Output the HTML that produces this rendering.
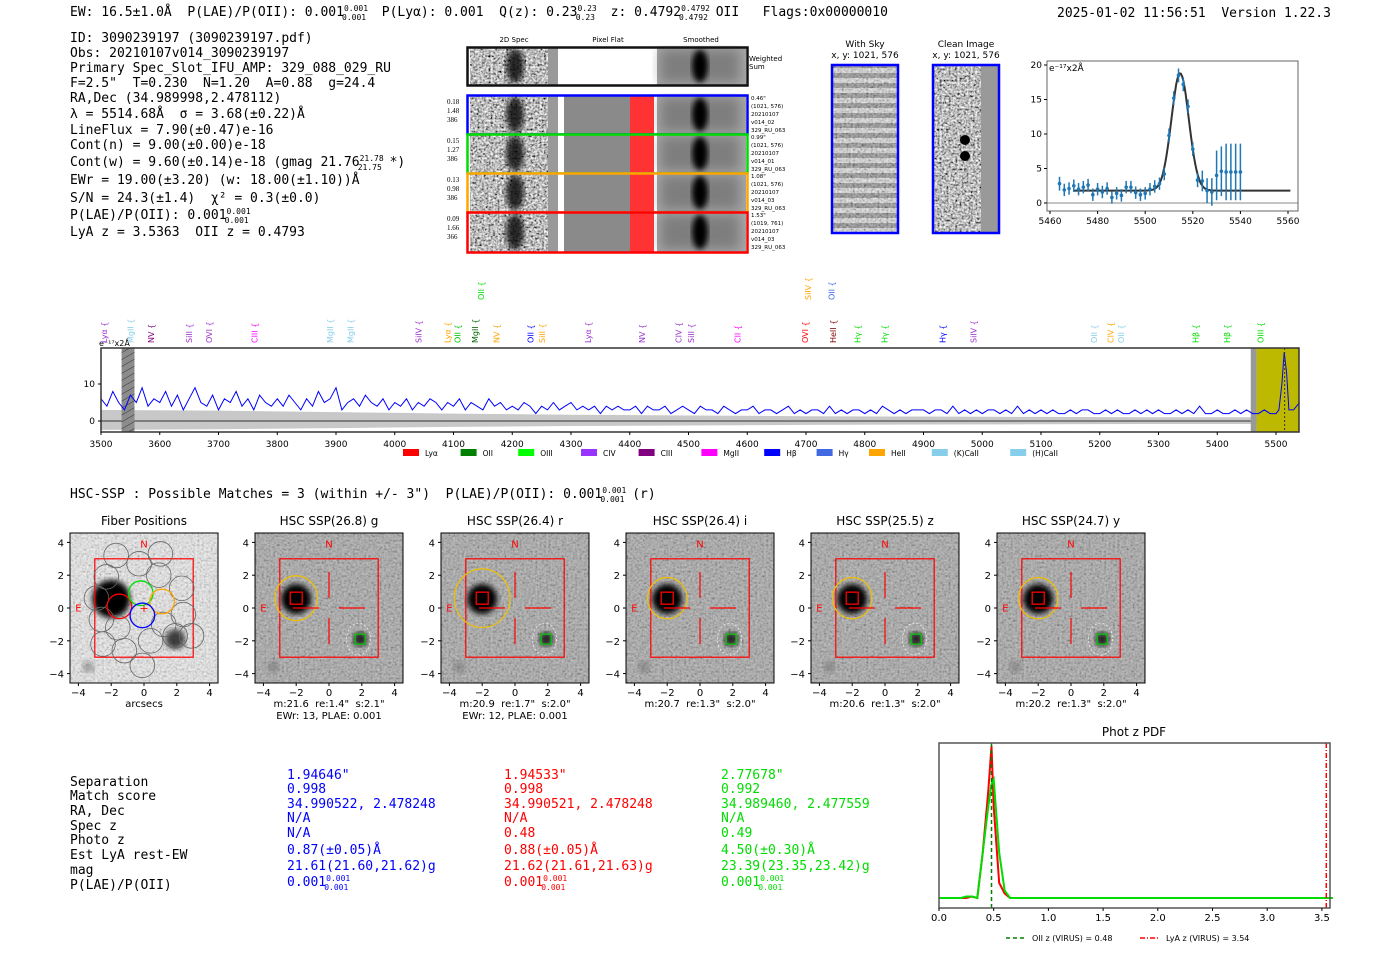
<!DOCTYPE html>
<html><head><meta charset="utf-8"><style>
html,body{margin:0;padding:0;background:#fff;}
svg{display:block;font-family:"DejaVu Sans","Liberation Sans",sans-serif;}
svg text{white-space:pre;}
.mono{font-family:"DejaVu Sans Mono","Liberation Mono",monospace;}
</style></head><body>
<svg id="root" width="1400" height="953" viewBox="0 0 1400 953" xmlns="http://www.w3.org/2000/svg" xml:space="preserve">
<defs>
<filter id="noise" x="0" y="0" width="100%" height="100%"><feTurbulence type="fractalNoise" baseFrequency="0.45" numOctaves="2" seed="3"/><feColorMatrix type="saturate" values="0"/><feComponentTransfer><feFuncR type="linear" slope="2.2" intercept="-0.6"/><feFuncG type="linear" slope="2.2" intercept="-0.6"/><feFuncB type="linear" slope="2.2" intercept="-0.6"/><feFuncA type="linear" slope="0" intercept="1"/></feComponentTransfer></filter>
<filter id="blur3"><feGaussianBlur stdDeviation="3"/></filter>
<filter id="blur6"><feGaussianBlur stdDeviation="6"/></filter>
<pattern id="skyband" width="10" height="10" patternUnits="userSpaceOnUse"><rect width="10" height="10" fill="#d8d8d8"/><rect y="3" width="10" height="5" fill="#8a8a8a"/></pattern>
<pattern id="hatch" width="6" height="6" patternUnits="userSpaceOnUse" patternTransform="rotate(60)"><rect width="6" height="6" fill="#8c8c8c"/><line x1="0" y1="0" x2="0" y2="6" stroke="#333" stroke-width="1"/></pattern>
</defs>

<g class="mono" font-size="13" fill="#000">
<text x="70" y="16">EW: 16.5±1.0Å  P(LAE)/P(OII): 0.001<tspan font-size="8" dy="-5">0.001</tspan><tspan font-size="8" dx="-26" dy="9">0.001</tspan><tspan dy="-4">  P(Lyα): 0.001  Q(z): 0.23</tspan><tspan font-size="8" dy="-5">0.23</tspan><tspan font-size="8" dx="-21" dy="9">0.23</tspan><tspan dy="-4">  z: 0.4792</tspan><tspan font-size="8" dy="-5">0.4792</tspan><tspan font-size="8" dx="-31" dy="9">0.4792</tspan><tspan dy="-4"> OII   Flags:0x00000010</tspan></text>
<text x="1057" y="17">2025-01-02 11:56:51  Version 1.22.3</text>
</g>

<g class="mono" font-size="13" fill="#000">
<text x="70" y="42">ID: 3090239197 (3090239197.pdf)</text>
<text x="70" y="57">Obs: 20210107v014_3090239197</text>
<text x="70" y="72">Primary Spec_Slot_IFU_AMP: 329_088_029_RU</text>
<text x="70" y="87">F=2.5"  T=0.230  N=1.20  A=0.88  g=24.4</text>
<text x="70" y="102">RA,Dec (34.989998,2.478112)</text>
<text x="70" y="118">λ = 5514.68Å  σ = 3.68(±0.22)Å</text>
<text x="70" y="134">LineFlux = 7.90(±0.47)e-16</text>
<text x="70" y="149">Cont(n) = 9.00(±0.00)e-18</text>
<text x="70" y="166">Cont(w) = 9.60(±0.14)e-18 (gmag 21.76<tspan font-size="8" dy="-5">21.78</tspan><tspan font-size="8" dx="-26" dy="9">21.75</tspan><tspan dy="-4"> *)</tspan></text>
<text x="70" y="184">EWr = 19.00(±3.20) (w: 18.00(±1.10))Å</text>
<text x="70" y="202">S/N = 24.3(±1.4)  χ² = 0.3(±0.0)</text>
<text x="70" y="219">P(LAE)/P(OII): 0.001<tspan font-size="8" dy="-5">0.001</tspan><tspan font-size="8" dx="-26" dy="9">0.001</tspan></text>
<text x="70" y="236">LyA z = 3.5363  OII z = 0.4793</text>
</g>

<g id="spec2d"></g>
<g id="skyimgs"></g>
<g id="fitplot"></g>
<g id="specplot"></g>

<text class="mono" x="70" y="498" font-size="13">HSC-SSP : Possible Matches = 3 (within +/- 3")  P(LAE)/P(OII): 0.001<tspan font-size="8" dy="-5">0.001</tspan><tspan font-size="8" dx="-26" dy="9">0.001</tspan><tspan dy="-4"> (r)</tspan></text>

<g id="cutouts"></g>

<g class="mono" font-size="13">
<g fill="#000">
<text x="70" y="786">Separation</text><text x="70" y="800">Match score</text><text x="70" y="815">RA, Dec</text><text x="70" y="830">Spec z</text><text x="70" y="844">Photo z</text><text x="70" y="859">Est LyA rest-EW</text><text x="70" y="874">mag</text><text x="70" y="889">P(LAE)/P(OII)</text>
</g>
<g fill="#0000ff">
<text x="287" y="779">1.94646"</text><text x="287" y="793">0.998</text><text x="287" y="808">34.990522, 2.478248</text><text x="287" y="822">N/A</text><text x="287" y="837">N/A</text><text x="287" y="854">0.87(±0.05)Å</text><text x="287" y="870">21.61(21.60,21.62)g</text><text x="287" y="886">0.001<tspan font-size="8" dy="-5">0.001</tspan><tspan font-size="8" dx="-26" dy="9">0.001</tspan></text>
</g>
<g fill="#ff0000">
<text x="504" y="779">1.94533"</text><text x="504" y="793">0.998</text><text x="504" y="808">34.990521, 2.478248</text><text x="504" y="822">N/A</text><text x="504" y="837">0.48</text><text x="504" y="854">0.88(±0.05)Å</text><text x="504" y="870">21.62(21.61,21.63)g</text><text x="504" y="886">0.001<tspan font-size="8" dy="-5">0.001</tspan><tspan font-size="8" dx="-26" dy="9">0.001</tspan></text>
</g>
<g fill="#00dd00">
<text x="721" y="779">2.77678"</text><text x="721" y="793">0.992</text><text x="721" y="808">34.989460, 2.477559</text><text x="721" y="822">N/A</text><text x="721" y="837">0.49</text><text x="721" y="854">4.50(±0.30)Å</text><text x="721" y="870">23.39(23.35,23.42)g</text><text x="721" y="886">0.001<tspan font-size="8" dy="-5">0.001</tspan><tspan font-size="8" dx="-26" dy="9">0.001</tspan></text>
</g>
</g>

<g id="pdfplot"></g>
</svg>

<script>
const specStart = 3500;
const specStep = 10;
const specFlux = [6,4,8,5,3,7,5,9,4,6, 5,8,4,7,3,6,9,5,4,7, 3,6,5,8,4,6,3,7,5,4, 6,4,7,5,3,6,4,8,5,6, 9,3,5,6,4,7,5,4,6,3, 5,4,6,3,5,4,6,5,3,5, 4,6,3,5,4,3,6,4,5,3, 4,3,5,4,2,4,3,5,3,4, 5,3,4,3,4,2,4,3,4,3, 3,4,2,4,3,3,4,2,3,4, 3,2,4,3,3,2,4,3,2,3, 3,4,2,3,3,2,3,4,2,3, 2,3,3,2,4,2,3,2,3,3, 2,3,2,4,3,2,3,2,3,3, 3,2,3,3,2,4,2,3,2,3, 2,3,3,2,3,2,4,2,3,2, 3,2,3,2,2,3,2,3,3,2, 2,3,2,3,2,2,3,2,3,2, 3,2,2,3,2,3,2,4,2,2, 3,2,2,3,2,3,2];
const peakWave = [5470,5480,5490,5500,5505,5510,5514,5518,5522,5530,5540];
const peakFlux = [2,3,2,2,3,10,18.6,13,3,3,5];
const errWave = [3500,3700,3900,4100,4300,4500,4700,4900,5100,5300,5540];
const errVal = [3,2.8,2.4,2,1.7,1.5,1.3,1.2,1.1,1,1];
const specTicks = [3500,3600,3700,3800,3900,4000,4100,4200,4300,4400,4500,4600,4700,4800,4900,5000,5100,5200,5300,5400,5500];
const lineWave = [3505,3550,3585,3650,3684,3761,3890,3925,4040,4090,4107,4137,4173,4231,4251,4329,4421,4483,4504,4583,4698,4746,4788,4834,4932,4985,5190,5218,5236,5363,5417,5474,4147,4703,4743];
const lineName = ["Lyα","MgII","NV","SiII","OVI","CIII","MgII","MgII","SiIV","Lyα","OII","MgII","NV","OII","SiII","Lyα","NV","CIV","SiII","CII","OVI","HeII","Hγ","Hγ","Hγ","SiIV","OII","CIV","OII","Hβ","Hβ","OIII","OII","SiIV","OII"];
const lineColor = ["#9933cc","#87ceeb","#800080","#9933cc","#9933cc","#ff00ff","#87ceeb","#87ceeb","#9933cc","#ffa500","#00c000","#006400","#ffa500","#0000ff","#ffa500","#9933cc","#9933cc","#9933cc","#9933cc","#ff00ff","#ff0000","#800000","#00dd00","#00dd00","#0000ff","#9933cc","#87ceeb","#ffa500","#87ceeb","#00dd00","#00dd00","#00dd00","#00dd00","#ffa500","#4169e1"];
const lineRow = [0,0,0,0,0,0,0,0,0,0,0,0,0,0,0,0,0,0,0,0,0,0,0,0,0,0,0,0,0,0,0,0,1,1,1];
const legendNames = ["Lyα","OII","OIII","CIV","CIII","MgII","Hβ","Hγ","HeII","(K)CaII","(H)CaII"];
const legendColors = ["#ff0000","#008000","#00ff00","#9933ff","#800080","#ff00ff","#0000ff","#4169e1","#ffa500","#87ceeb","#87ceeb"];

const fitWave = [5464,5466,5468,5470,5472,5474,5476,5478,5480,5482,5484,5486,5488,5490,5492,5494,5496,5498,5500,5502,5504,5506,5508,5510,5512,5514,5516,5518,5520,5522,5524,5526,5528,5530,5532,5534,5536,5538,5540];
const fitFlux = [2.8,1.9,2.1,2.5,2.0,2.3,2.6,1.2,2.0,1.6,2.1,0.8,1.4,1.1,2.3,2.3,1.5,1.2,1.4,2.0,2.4,2.8,4.2,9.8,15.2,18.5,17.2,14.0,7.8,3.3,3.2,1.8,1.6,4.0,4.6,4.5,4.5,4.5,4.5];
const fitErr = [1,0.9,0.9,0.9,0.9,0.9,0.9,0.9,0.9,0.9,0.9,0.9,0.9,0.9,0.9,0.9,0.9,0.9,0.9,0.9,0.9,0.9,0.9,1,1,1,1,1,1,1,1.5,1.8,2,3.6,3.6,4.1,4.1,4.1,4.1];
const fitMu = 5514.68;
const fitSigma = 3.68;
const fitAmp = 17.0;
const fitCont = 1.8;
const fitXTicks = [5460,5480,5500,5520,5540,5560];
const fitYTicks = [0,5,10,15,20];

const pdfZ = [0,0.2,0.25,0.3,0.35,0.4,0.45,0.48,0.5,0.55,0.6,0.65,0.7,3.6];
const pdfGreen = [0,0,0.01,0.01,0,0.3,0.6,0.75,0.78,0.3,0.05,0,0,0];
const pdfRed = [0,0,0,0.01,0,0.3,0.7,1.0,0.6,0.1,0.03,0,0,0];
const pdfTicks = [0.0,0.5,1.0,1.5,2.0,2.5,3.0,3.5];
const oiiZ = 0.48;
const lyaZ = 3.54;

const cutTitles = ["Fiber Positions","HSC SSP(26.8) g","HSC SSP(26.4) r","HSC SSP(26.4) i","HSC SSP(25.5) z","HSC SSP(24.7) y"];
const cutNotes1 = ["arcsecs","m:21.6  re:1.4\"  s:2.1\"","m:20.9  re:1.7\"  s:2.0\"","m:20.7  re:1.3\"  s:2.0\"","m:20.6  re:1.3\"  s:2.0\"","m:20.2  re:1.3\"  s:2.0\""];
const cutNotes2 = ["","EWr: 13, PLAE: 0.001","EWr: 12, PLAE: 0.001","","",""];
const apertureR = [0,1.3,1.7,1.2,1.2,1.2];
const fiberX = [-1.7,-0.3,1.0,-2.3,-2.9,0.9,2.3,-2.6,-1.6,1.2,2.4,-2.5,-1.2,0.4,1.9,-0.1,2.9];
const fiberY = [3.2,2.7,3.3,1.9,0.6,2.0,1.2,-0.7,-1.2,-1.0,-0.4,-2.2,-2.6,-2.0,-1.7,-3.5,-1.7];
const colFiberX = [-1.5,-0.2,1.1,-0.1];
const colFiberY = [0.1,0.9,0.4,-0.45];
const colFiberC = ["#ff0000","#00dd00","#ffa500","#0000ff"];

const NS = "http://www.w3.org/2000/svg";
function mk(tag, attrs, parent, name, inter) {
  const e = document.createElementNS(NS, tag);
  for (const k in attrs) e.setAttribute(k, attrs[k]);
  
  
  parent.appendChild(e);
  return e;
}
function txt(s, attrs, parent, name) {
  const e = mk('text', attrs, parent, name, false);
  e.textContent = s;
  return e;
}

(function(){
  const g = document.getElementById('spec2d');
  txt('2D Spec', {x:514,y:42,'font-size':7,'text-anchor':'middle'}, g, 'col-title-2d-spec');
  txt('Pixel Flat', {x:608,y:42,'font-size':7,'text-anchor':'middle'}, g, 'col-title-pixel-flat');
  txt('Smoothed', {x:701,y:42,'font-size':7,'text-anchor':'middle'}, g, 'col-title-smoothed');
  const rows = [[47,38,'#111'],[95,39,'#0000ff'],[134,39,'#00dd00'],[173,39,'#ffa500'],[212,40,'#ff0000']];
  const lbl = [["0.18","1.48","386"],["0.15","1.27","386"],["0.13","0.98","386"],["0.09","1.66","366"]];
  const rtxt = [["0.46\"","(1021, 576)","20210107","v014_02","329_RU_063"],["0.99\"","(1021, 576)","20210107","v014_01","329_RU_063"],["1.08\"","(1021, 576)","20210107","v014_03","329_RU_063"],["1.53\"","(1019, 761)","20210107","v014_03","329_RU_063"]];
  rows.forEach((r,i)=>{
    const y=r[0], h=r[1];
    mk('rect',{x:470,y:y,width:88,height:h,filter:'url(#noise)'},g,'spec2d-image',false);
    mk('rect',{x:548,y:y,width:10,height:h,fill:'#999'},g,'spec2d-edge',false);
    mk('ellipse',{cx:515,cy:y+h/2,rx:9,ry:h/2.2,fill:'#000',opacity:0.8,filter:'url(#blur3)'},g,'spec2d-source',false);
    if(i===0){
      mk('rect',{x:558,y:y,width:98,height:h,fill:'#fff'},g,'pixel-flat-blank',false);
    } else {
      mk('rect',{x:558,y:y,width:6,height:h,fill:'#fff'},g,'pixel-flat-gap',false);
      mk('rect',{x:564,y:y,width:66,height:h,fill:'#8a8a8a'},g,'pixel-flat',false);
      mk('rect',{x:630,y:y,width:24,height:h,fill:'#ff3333'},g,'pixel-flat-bad',false);
      mk('rect',{x:654,y:y,width:3,height:h,fill:'#fff'},g,'pixel-flat-gap',false);
    }
    mk('rect',{x:657,y:y,width:89,height:h,fill:'#a8a8a8'},g,'smoothed-image',false);
    mk('rect',{x:660,y:y+2,width:80,height:h-4,fill:'#555',opacity:0.5,filter:'url(#blur6)'},g,'smoothed-texture',false);
    mk('ellipse',{cx:700,cy:y+h/2,rx:8,ry:h/2.3,fill:'#000',filter:'url(#blur3)'},g,'smoothed-source',false);
    mk('rect',{x:467.5,y:y+0.5,width:280,height:h,fill:'none',stroke:r[2],'stroke-width':2.5},g,'spec2d-row-frame',false);
    if(i===0){
      txt('Weighted',{x:749,y:y+14,'font-size':7},g,'weighted-sum-label');
      txt('Sum',{x:749,y:y+22,'font-size':7},g,'weighted-sum-label');
    } else {
      lbl[i-1].forEach((s,j)=>txt(s,{x:447,y:y+9+j*9,'font-size':7,'font-family':'Liberation Serif,serif'},g,'fiber-weight-label'));
      rtxt[i-1].forEach((s,j)=>txt(s,{x:751,y:y+5+j*8,'font-size':5.5},g,'fiber-info-label'));
    }
  });
})();

(function(){
  const g = document.getElementById('skyimgs');
  txt('With Sky',{x:865,y:47,'font-size':9,'text-anchor':'middle'},g,'with-sky-title');
  txt('x, y: 1021, 576',{x:865,y:58,'font-size':9,'text-anchor':'middle'},g,'with-sky-coords');
  txt('Clean Image',{x:966,y:47,'font-size':9,'text-anchor':'middle'},g,'clean-image-title');
  txt('x, y: 1021, 576',{x:966,y:58,'font-size':9,'text-anchor':'middle'},g,'clean-image-coords');
  mk('rect',{x:832,y:65,width:66,height:168,fill:'url(#skyband)'},g,'with-sky-image',false);
  mk('rect',{x:832,y:65,width:66,height:168,filter:'url(#noise)',opacity:0.35},g,'with-sky-noise',false);
  mk('rect',{x:832,y:65,width:66,height:168,fill:'none',stroke:'#0000ff','stroke-width':2.5},g,'with-sky-frame',false);
  mk('rect',{x:933,y:65,width:66,height:168,filter:'url(#noise)'},g,'clean-image',false);
  mk('rect',{x:981,y:65,width:18,height:168,fill:'#999'},g,'clean-image-edge',false);
  mk('ellipse',{cx:965,cy:140,rx:5,ry:5,fill:'#000'},g,'clean-image-source',false);
  mk('ellipse',{cx:965,cy:156,rx:5,ry:5,fill:'#000'},g,'clean-image-source',false);
  mk('rect',{x:933,y:65,width:66,height:168,fill:'none',stroke:'#0000ff','stroke-width':2.5},g,'clean-image-frame',false);
})();

(function(){
  const g = document.getElementById('fitplot');
  const X0=1047,X1=1298,Y0=61,Y1=211;
  const xs = w => 1050 + (w-5460)*(1288-1050)/100;
  const ys = v => 203 - v*6.9;
  mk('line',{x1:X0,x2:X1,y1:ys(0),y2:ys(0),stroke:'#888','stroke-width':1},g,'zero-line',false);
  let d='';
  for(let w=5470; w<=5561; w+=0.5){
    const v = fitCont + fitAmp*Math.exp(-0.5*Math.pow((w-fitMu)/fitSigma,2));
    d += (d?'L':'M')+xs(w).toFixed(1)+','+ys(v).toFixed(1);
  }
  mk('path',{d:d,fill:'none',stroke:'#333','stroke-width':2},g,'gaussian-fit-curve',false);
  fitWave.forEach((w,i)=>{
    mk('line',{x1:xs(w),x2:xs(w),y1:ys(fitFlux[i]-fitErr[i]),y2:ys(fitFlux[i]+fitErr[i]),stroke:'#1f77b4','stroke-width':1.5},g,'fit-errorbar',false);
    mk('circle',{cx:xs(w),cy:ys(fitFlux[i]),r:1.8,fill:'#1f77b4'},g,'fit-data-point',false);
  });
  mk('rect',{x:X0,y:Y0,width:X1-X0,height:Y1-Y0,fill:'none',stroke:'#666','stroke-width':1},g,'fit-axes-frame',false);
  fitXTicks.forEach(t=>{
    mk('line',{x1:xs(t),x2:xs(t),y1:Y1,y2:Y1+3,stroke:'#000'},g,'x-tick',false);
    txt(String(t),{x:xs(t),y:Y1+13,'font-size':9,'text-anchor':'middle'},g,'x-tick-label');
  });
  fitYTicks.forEach(t=>{
    mk('line',{x1:X0-3,x2:X0,y1:ys(t),y2:ys(t),stroke:'#000'},g,'y-tick',false);
    txt(String(t),{x:X0-5,y:ys(t)+3,'font-size':9,'text-anchor':'end'},g,'y-tick-label');
  });
  txt('e⁻¹⁷x2Å',{x:X0+2,y:Y0+10,'font-size':9},g,'fit-units-label');
})();

(function(){
  const g = document.getElementById('specplot');
  const X0=101,X1=1299,Y0=348,Y1=432;
  const xs = w => 101 + (w-3500)*0.5875;
  const ys = v => 421 - v*3.7;
  mk('rect',{x:X0,y:Y0,width:X1-X0,height:Y1-Y0,fill:'#fff'},g,'spectrum-background',false);
  let up='', dn='';
  errWave.forEach((w,i)=>{ up += (i?'L':'M')+xs(w)+','+ys(errVal[i]); });
  for(let i=errWave.length-1;i>=0;i--){ dn += 'L'+xs(errWave[i])+','+ys(-errVal[i]*0.8); }
  mk('path',{d:up+dn+'Z',fill:'#c8c8c8'},g,'error-band',false);
  mk('line',{x1:X0,x2:X1,y1:ys(0),y2:ys(0),stroke:'#666','stroke-width':1.5},g,'zero-line',false);
  mk('rect',{x:xs(3535),y:Y0,width:xs(3557)-xs(3535),height:Y1-Y0,fill:'url(#hatch)'},g,'masked-region',false);
  mk('rect',{x:xs(5457),y:Y0,width:xs(5467)-xs(5457),height:Y1-Y0,fill:'#999'},g,'masked-region',false);
  mk('rect',{x:xs(5467),y:Y0,width:X1-xs(5467),height:Y1-Y0,fill:'#bdb800'},g,'line-fit-window',false);
  let d='';
  specFlux.forEach((v,i)=>{ d += (i?'L':'M')+xs(specStart+i*specStep).toFixed(1)+','+ys(v).toFixed(1); });
  peakWave.forEach((w,i)=>{ d += 'L'+xs(w).toFixed(1)+','+ys(peakFlux[i]).toFixed(1); });
  mk('path',{d:d,fill:'none',stroke:'#0000ff','stroke-width':1},g,'spectrum-line',false);
  mk('line',{x1:xs(5514.7),x2:xs(5514.7),y1:Y0,y2:Y1,stroke:'#333','stroke-dasharray':'2,2'},g,'line-center-marker',false);
  mk('rect',{x:X0,y:Y0,width:X1-X0,height:Y1-Y0,fill:'none',stroke:'#333','stroke-width':1.5},g,'spectrum-axes-frame',false);
  specTicks.forEach(t=>{
    mk('line',{x1:xs(t),x2:xs(t),y1:Y1,y2:Y1+3,stroke:'#000'},g,'x-tick',false);
    txt(String(t),{x:xs(t),y:Y1+15,'font-size':9,'text-anchor':'middle'},g,'x-tick-label');
  });
  [0,10].forEach(t=>{
    mk('line',{x1:X0-3,x2:X0,y1:ys(t),y2:ys(t),stroke:'#000'},g,'y-tick',false);
    txt(String(t),{x:X0-6,y:ys(t)+3,'font-size':9,'text-anchor':'end'},g,'y-tick-label');
  });
  txt('e⁻¹⁷x2Å',{x:99,y:346,'font-size':8},g,'spectrum-units-label');
  lineWave.forEach((w,i)=>{
    const x = xs(w)+3, yb = lineRow[i] ? 300 : 343;
    txt(lineName[i]+' {',{x:x,y:yb,'font-size':8,fill:lineColor[i],transform:'rotate(-90 '+x+' '+yb+')'},g,'emission-line-label');
  });
  let lx = 403;
  legendNames.forEach((n,i)=>{
    mk('rect',{x:lx,y:449,width:16,height:7,fill:legendColors[i]},g,'legend-swatch',false);
    txt(n,{x:lx+22,y:456,'font-size':7.5},g,'legend-entry');
    lx += 22 + n.length*5.2 + 20;
  });
})();

(function(){
  const g = document.getElementById('cutouts');
  const px = [70,255,441,626,811,997];
  px.forEach((x0,i)=>{
    const y0=533, W=148, H=150;
    const sx = v => x0+74+v*16.4, sy = v => y0+75-v*16.4;
    const pg = mk('g',{},g,'cutout-'+i,false);
    mk('rect',{x:x0,y:y0,width:W,height:H,filter:'url(#noise)'},pg,'cutout-noise',false);
    mk('rect',{x:x0,y:y0,width:W,height:H,fill:i===0?'#e8e8e8':'#a4a4a4',opacity:0.72},pg,'cutout-background',false);
    mk('circle',{cx:sx(-2),cy:sy(0.55),r:i===0?19:15,fill:'#000',filter:'url(#blur3)'},pg,'bright-source',false);
    mk('circle',{cx:sx(1.9),cy:sy(-1.9),r:i===0?10:7,fill:i===0?'#222':'#111',filter:'url(#blur3)',opacity:0.85},pg,'faint-source',false);
    mk('circle',{cx:sx(-3.4),cy:sy(-3.6),r:6,fill:'#777',filter:'url(#blur3)',opacity:0.6},pg,'faint-source',false);
    mk('rect',{x:sx(-3),y:sy(3),width:16.4*6,height:16.4*6,fill:'none',stroke:'#ff0000','stroke-width':1.2},pg,'search-box',false);
    txt('N',{x:sx(0),y:sy(3.7),'font-size':10,fill:'#ff0000','text-anchor':'middle'},pg,'north-label');
    txt('E',{x:sx(-4),y:sy(-0.2),'font-size':10,fill:'#ff0000','text-anchor':'middle'},pg,'east-label');
    if(i===0){
      fiberX.forEach((fx,k)=>mk('circle',{cx:sx(fx),cy:sy(fiberY[k]),r:12.3,fill:'none',stroke:'#666','stroke-width':0.8},pg,'fiber-circle',false));
      colFiberX.forEach((fx,k)=>mk('circle',{cx:sx(fx),cy:sy(colFiberY[k]),r:12.3,fill:'none',stroke:colFiberC[k],'stroke-width':1.3},pg,'fiber-circle-highlight',false));
      txt('+',{x:sx(0),y:sy(0)+4,'font-size':11,fill:'#ff0000','text-anchor':'middle'},pg,'center-marker');
    } else {
      mk('ellipse',{cx:sx(-2),cy:sy(0.6),rx:apertureR[i]*16.4,ry:apertureR[i]*16.4*1.05,fill:'none',stroke:'#f0c000','stroke-width':1.2},pg,'aperture-ellipse',false);
      mk('rect',{x:sx(-2)-6,y:sy(0.6)-6,width:12,height:12,fill:'none',stroke:'#ff0000','stroke-width':1.3},pg,'match-marker',false);
      mk('ellipse',{cx:sx(1.8),cy:sy(-1.9),rx:12,ry:16,fill:'none',stroke:'#eee','stroke-dasharray':'2,2','stroke-width':0.8},pg,'aperture-faint',false);
      mk('rect',{x:sx(1.9)-5,y:sy(-1.9)-5,width:10,height:10,fill:'none',stroke:'#00cc00','stroke-width':1.2},pg,'match-marker-green',false);
      mk('line',{x1:sx(0),x2:sx(0),y1:sy(2.2),y2:sy(0.6),stroke:'#ff0000','stroke-width':1.2},pg,'crosshair',false);
      mk('line',{x1:sx(0),x2:sx(0),y1:sy(-0.6),y2:sy(-2.2),stroke:'#ff0000','stroke-width':1.2},pg,'crosshair',false);
      mk('line',{x1:sx(-2.2),x2:sx(-0.6),y1:sy(0),y2:sy(0),stroke:'#ff0000','stroke-width':1.2},pg,'crosshair',false);
      mk('line',{x1:sx(0.6),x2:sx(2.2),y1:sy(0),y2:sy(0),stroke:'#ff0000','stroke-width':1.2},pg,'crosshair',false);
    }
    mk('rect',{x:x0,y:y0,width:W,height:H,fill:'none',stroke:'#000','stroke-width':1},pg,'cutout-frame',false);
    txt(cutTitles[i],{x:x0+74,y:525,'font-size':12,'text-anchor':'middle'},pg,'cutout-title');
    [-4,-2,0,2,4].forEach(t=>{
      const lab = t<0 ? '−'+(-t) : String(t);
      mk('line',{x1:sx(t),x2:sx(t),y1:y0+H,y2:y0+H+3,stroke:'#000'},pg,'x-tick',false);
      txt(lab,{x:sx(t),y:y0+H+13,'font-size':10,'text-anchor':'middle'},pg,'x-tick-label');
      mk('line',{x1:x0-3,x2:x0,y1:sy(t),y2:sy(t),stroke:'#000'},pg,'y-tick',false);
      txt(lab,{x:x0-6,y:sy(t)+4,'font-size':10,'text-anchor':'end'},pg,'y-tick-label');
    });
    txt(cutNotes1[i],{x:x0+74,y:707,'font-size':10,'text-anchor':'middle'},pg,'cutout-note');
    if(cutNotes2[i]) txt(cutNotes2[i],{x:x0+74,y:719,'font-size':10,'text-anchor':'middle'},pg,'cutout-note');
  });
})();

(function(){
  const g = document.getElementById('pdfplot');
  const X0=939,X1=1330,Y0=743,Y1=908;
  const xs = z => 939 + z*109.4;
  const ys = p => 898 - p*152;
  txt('Phot z PDF',{x:1134,y:736,'font-size':12,'text-anchor':'middle'},g,'pdf-title');
  let dr='', dg='';
  pdfZ.forEach((z,i)=>{ dr += (i?'L':'M')+xs(z)+','+ys(pdfRed[i]); dg += (i?'L':'M')+xs(z)+','+ys(pdfGreen[i]); });
  mk('path',{d:dr,fill:'none',stroke:'#ff0000','stroke-width':2},g,'pdf-curve-red',false);
  mk('path',{d:dg,fill:'none',stroke:'#00dd00','stroke-width':2},g,'pdf-curve-green',false);
  mk('line',{x1:xs(oiiZ),x2:xs(oiiZ),y1:Y0,y2:Y1,stroke:'#008000','stroke-width':1.5,'stroke-dasharray':'4,3'},g,'oii-z-marker',false);
  mk('line',{x1:xs(lyaZ),x2:xs(lyaZ),y1:Y0,y2:Y1,stroke:'#ff0000','stroke-width':1.5,'stroke-dasharray':'5,2,1,2'},g,'lya-z-marker',false);
  mk('rect',{x:X0,y:Y0,width:X1-X0,height:Y1-Y0,fill:'none',stroke:'#555','stroke-width':1.5},g,'pdf-axes-frame',false);
  pdfTicks.forEach(t=>{
    mk('line',{x1:xs(t),x2:xs(t),y1:Y1,y2:Y1+3,stroke:'#000'},g,'x-tick',false);
    txt(t.toFixed(1),{x:xs(t),y:Y1+13,'font-size':10,'text-anchor':'middle'},g,'x-tick-label');
  });
  mk('line',{x1:1006,x2:1026,y1:938,y2:938,stroke:'#008000','stroke-width':1.5,'stroke-dasharray':'4,3'},g,'legend-oii-swatch',false);
  txt('OII z (VIRUS) = 0.48',{x:1032,y:941,'font-size':8},g,'legend-oii');
  mk('line',{x1:1140,x2:1160,y1:938,y2:938,stroke:'#ff0000','stroke-width':1.5,'stroke-dasharray':'5,2,1,2'},g,'legend-lya-swatch',false);
  txt('LyA z (VIRUS) = 3.54',{x:1166,y:941,'font-size':8},g,'legend-lya');
})();
</script>
</body></html>
